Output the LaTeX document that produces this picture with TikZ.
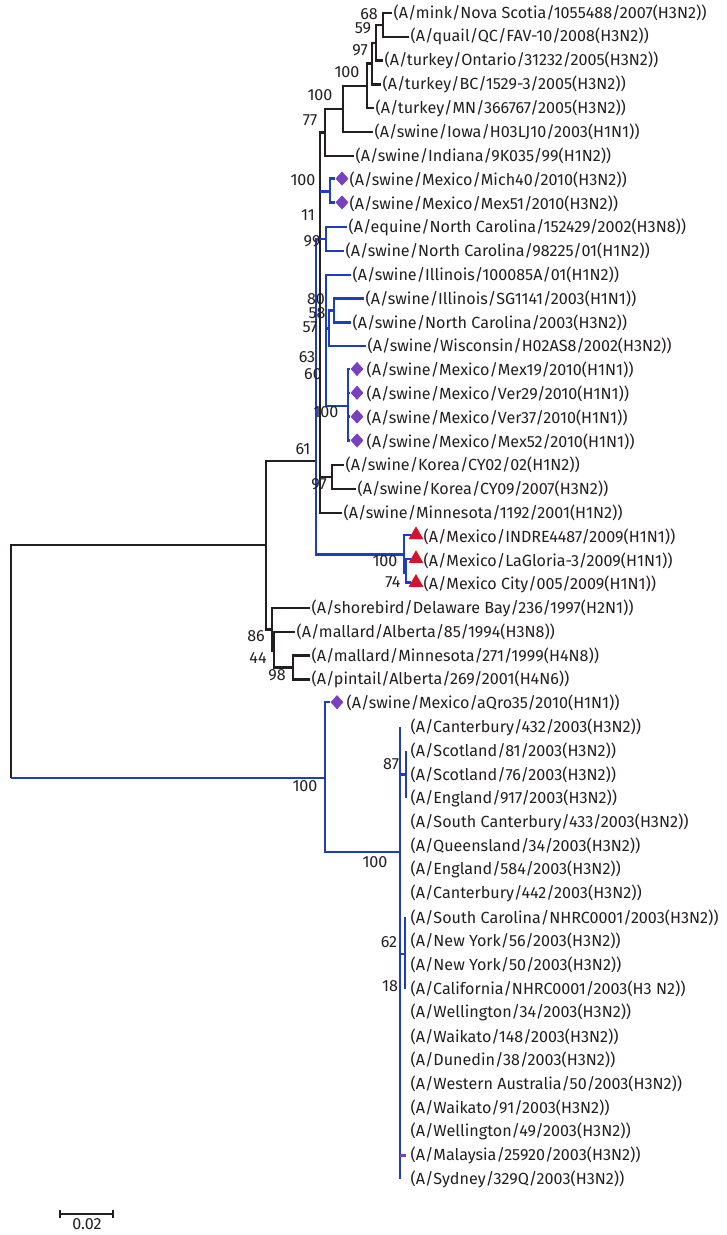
\documentclass[tikz,border=0pt]{standalone}
\usepackage{fontspec}
\setmainfont{Fira Sans}
\usetikzlibrary{shapes.geometric}
\definecolor{tblack}{HTML}{231F20}
\definecolor{tblue}{HTML}{1E3EBE}
\definecolor{tpurple}{HTML}{7A40C2}
\definecolor{tred}{HTML}{D2142C}
\newcommand{\lf}{\fontsize{12.1}{14}\selectfont}
\begin{document}
\begin{tikzpicture}[x=0.75pt,y=-0.75pt,
  br/.style={line width=1.8pt, draw=tblack},
  bb/.style={line width=1.8pt, draw=tblue},
  leaf/.style={anchor=west, inner xsep=1pt, inner ysep=0pt, text=tblack, font=\lf},
  bs/.style={inner sep=0pt, text=tblack, font=\lf},
  dia/.style={diamond, fill=tpurple, inner sep=0pt, minimum width=9.5pt, minimum height=10.5pt},
  tri/.style={regular polygon, regular polygon sides=3, fill=tred, inner sep=0pt, minimum size=12.5pt}]
\useasboundingbox (0,0) rectangle (727,1235);

% ---------- leaves ----------
\node[leaf] (l1) at (392,13) {(A/mink/Nova Scotia/1055488/2007(H3N2))};
\node[leaf] (l2) at (409,36.8) {(A/quail/QC/FAV-10/2008(H3N2))};
\node[leaf] (l3) at (383,60.6) {(A/turkey/Ontario/31232/2005(H3N2))};
\node[leaf] (l4) at (381,84.4) {(A/turkey/BC/1529-3/2005(H3N2))};
\node[leaf] (l5) at (374,108.2) {(A/turkey/MN/366767/2005(H3N2))};
\node[leaf] (l6) at (373,132) {(A/swine/Iowa/H03LJ10/2003(H1N1))};
\node[leaf] (l7) at (354,155.8) {(A/swine/Indiana/9K035/99(H1N2))};
\node[dia] (d8) at (342,178.6) {};
\node[leaf] (l8) at (348,179.6) {(A/swine/Mexico/Mich40/2010(H3N2))};
\node[dia] (d9) at (342,202.4) {};
\node[leaf] (l9) at (348,203.4) {(A/swine/Mexico/Mex51/2010(H3N2))};
\node[leaf] (l10) at (347,227.2) {(A/equine/North Carolina/152429/2002(H3N8))};
\node[leaf] (l11) at (344,251) {(A/swine/North Carolina/98225/01(H1N2))};
\node[leaf] (l12) at (351,274.8) {(A/swine/Illinois/100085A/01(H1N2))};
\node[leaf] (l13) at (364,298.6) {(A/swine/Illinois/SG1141/2003(H1N1))};
\node[leaf] (l14) at (351,322.4) {(A/swine/North Carolina/2003(H3N2))};
\node[leaf] (l15) at (366,346.2) {(A/swine/Wisconsin/H02AS8/2002(H3N2))};
\node[dia] (d16) at (357,369) {};
\node[leaf] (l16) at (365,370) {(A/swine/Mexico/Mex19/2010(H1N1))};
\node[dia] (d17) at (357,392.8) {};
\node[leaf] (l17) at (365,393.8) {(A/swine/Mexico/Ver29/2010(H1N1))};
\node[dia] (d18) at (357,416.6) {};
\node[leaf] (l18) at (365,417.6) {(A/swine/Mexico/Ver37/2010(H1N1))};
\node[dia] (d19) at (357,440.4) {};
\node[leaf] (l19) at (365,441.4) {(A/swine/Mexico/Mex52/2010(H1N1))};
\node[leaf] (l20) at (344,465.2) {(A/swine/Korea/CY02/02(H1N2))};
\node[leaf] (l21) at (356,489) {(A/swine/Korea/CY09/2007(H3N2))};
\node[leaf] (l22) at (342,512.8) {(A/swine/Minnesota/1192/2001(H1N2))};
\node[tri] (t23) at (416,535) {};
\node[leaf] (l23) at (422,536.6) {(A/Mexico/INDRE4487/2009(H1N1))};
\node[tri] (t24) at (416,558.8) {};
\node[leaf] (l24) at (422,560.4) {(A/Mexico/LaGloria-3/2009(H1N1))};
\node[tri] (t25) at (416,582.6) {};
\node[leaf] (l25) at (422,584.2) {(A/Mexico City/005/2009(H1N1))};
\node[leaf] (l26) at (310,608) {(A/shorebird/Delaware Bay/236/1997(H2N1))};
\node[leaf] (l27) at (295,631.8) {(A/mallard/Alberta/85/1994(H3N8))};
\node[leaf] (l28) at (310,655.6) {(A/mallard/Minnesota/271/1999(H4N8))};
\node[leaf] (l29) at (310,679.4) {(A/pintail/Alberta/269/2001(H4N6))};
\node[dia] (d30) at (337,702.2) {};
\node[leaf] (l30) at (345,703.2) {(A/swine/Mexico/aQro35/2010(H1N1))};
\node[leaf] (l31) at (409,727) {(A/Canterbury/432/2003(H3N2))};
\node[leaf] (l32) at (409,750.8) {(A/Scotland/81/2003(H3N2))};
\node[leaf] (l33) at (409,774.6) {(A/Scotland/76/2003(H3N2))};
\node[leaf] (l34) at (409,798.4) {(A/England/917/2003(H3N2))};
\node[leaf] (l35) at (409,822.2) {(A/South Canterbury/433/2003(H3N2))};
\node[leaf] (l36) at (409,846) {(A/Queensland/34/2003(H3N2))};
\node[leaf] (l37) at (409,869.8) {(A/England/584/2003(H3N2))};
\node[leaf] (l38) at (409,893.6) {(A/Canterbury/442/2003(H3N2))};
\node[leaf] (l39) at (409,917.4) {(A/South Carolina/NHRC0001/2003(H3N2))};
\node[leaf] (l40) at (409,941.2) {(A/New York/56/2003(H3N2))};
\node[leaf] (l41) at (409,965) {(A/New York/50/2003(H3N2))};
\node[leaf] (l42) at (409,988.8) {(A/California/NHRC0001/2003(H3 N2))};
\node[leaf] (l43) at (409,1012.6) {(A/Wellington/34/2003(H3N2))};
\node[leaf] (l44) at (409,1036.4) {(A/Waikato/148/2003(H3N2))};
\node[leaf] (l45) at (409,1060.2) {(A/Dunedin/38/2003(H3N2))};
\node[leaf] (l46) at (409,1084) {(A/Western Australia/50/2003(H3N2))};
\node[leaf] (l47) at (409,1107.8) {(A/Waikato/91/2003(H3N2))};
\node[leaf] (l48) at (409,1131.6) {(A/Wellington/49/2003(H3N2))};
\node[leaf] (l49) at (409,1155.4) {(A/Malaysia/25920/2003(H3N2))};
\node[leaf] (l50) at (409,1179.2) {(A/Sydney/329Q/2003(H3N2))};

% ---------- internal nodes ----------
\coordinate (n68) at (383,24.9);
\coordinate (n59) at (376,42.75);
\coordinate (n97a) at (372,63.6);
\coordinate (n100b) at (367,85.9);
\coordinate (n100a) at (343,108.9);
\coordinate (n77) at (325,132.4);
\coordinate (nBk) at (320,461);
\coordinate (mS) at (320,191.5);
\coordinate (nM) at (330,191.5);
\coordinate (nK) at (332,477.1);
\coordinate (nBl) at (316,461);
\coordinate (n99) at (326,239.1);
\coordinate (nX) at (326,340);
\coordinate (n58) at (329,328.4);
\coordinate (n80) at (334,310.5);
\coordinate (nMex) at (348,405.7);
\coordinate (nP100) at (404,554.5);
\coordinate (nP74) at (406,572.3);
\coordinate (nA) at (266,545);
\coordinate (n86) at (272,629.5);
\coordinate (n44) at (274,650.5);
\coordinate (n98) at (293,667.5);
\coordinate (nR) at (11,661.5);
\coordinate (rB) at (11,778);
\coordinate (nB) at (325,778);
\coordinate (nH) at (400,852);
\coordinate (n87) at (406,774.6);
\coordinate (n62) at (405,954);

% ---------- black branches ----------
\draw[br] (n68) |- (l1);  \draw[br] (n68) |- (l2);
\draw[br] (n59) |- (n68); \draw[br] (n59) |- (l3);
\draw[br] (n97a) |- (n59); \draw[br] (n97a) |- (l4);
\draw[br] (n100b) |- (n97a); \draw[br] (n100b) |- (l5);
\draw[br] (n100a) |- (n100b); \draw[br] (n100a) |- (l6);
\draw[br] (n77) |- (n100a); \draw[br] (n77) |- (l7);
\draw[br] (nBk) |- (n77);
\draw[br] (nBk) |- (nK);
\draw[br] (nBk) |- (l22);
\draw[br] (nK) |- (l20); \draw[br] (nK) |- (l21);
\draw[br] (nR) |- (nA);
\draw[br] (nR) -- (rB);
\draw[br] (nA) |- (nBl);
\draw[br] (nA) |- (n86);
\draw[br] (n86) |- (l26); \draw[br] (n86) |- (n44);
\draw[br] (n44) |- (l27); \draw[br] (n44) |- (n98);
\draw[br] (n98) |- (l28); \draw[br] (n98) |- (l29);

% ---------- blue branches ----------
\draw[bb] (mS) -- (nM);
\draw[bb] (nM) |- (d8); \draw[bb] (nM) |- (d9);
\draw[bb] (nBl) |- (n99); \draw[bb] (nBl) |- (nP100);
\draw[bb] (n99) |- (l10); \draw[bb] (n99) |- (l11);
\draw[bb] (nX) |- (l12); \draw[bb] (nX) |- (n58); \draw[bb] (nX) |- (nMex);
\draw[bb] (n58) |- (n80); \draw[bb] (n58) |- (l15);
\draw[bb] (n80) |- (l13); \draw[bb] (n80) |- (l14);
\draw[bb] (nMex) |- (d16); \draw[bb] (nMex) |- (d17);
\draw[bb] (nMex) |- (d18); \draw[bb] (nMex) |- (d19);
\draw[bb] (nP100) |- (t23); \draw[bb] (nP100) |- (nP74);
\draw[bb] (nP74) |- (t24); \draw[bb] (nP74) |- (t25);
\draw[bb] (rB) -- (nB);
\draw[bb] (nB) |- (d30); \draw[bb] (nB) |- (nH);
\draw[bb] (nH |- l31) -- (nH |- l50);
\draw[bb] (nH |- n87) -- (n87);
\draw[bb] (n87 |- l32) -- (n87 |- l34);
\draw[bb] (nH |- n62) -- (n62);
\draw[bb] (n62 |- l39) -- (n62 |- l42);
\draw[line width=1.8pt, draw=tpurple] (nH |- l49) -- ++(6,0);

% redraw markers on top
\node[dia] at (d8) {}; \node[dia] at (d9) {};
\node[dia] at (d16) {}; \node[dia] at (d17) {};
\node[dia] at (d18) {}; \node[dia] at (d19) {};
\node[dia] at (d30) {};
\node[tri] at (t23) {}; \node[tri] at (t24) {}; \node[tri] at (t25) {};

% ---------- bootstrap values ----------
\node[bs] (b68) at (369,14) {68};
\node[bs] (b59) at (363,28) {59};
\node[bs] (b97a) at (360,50) {97};
\node[bs] (b100b) at (347,72) {100};
\node[bs] (b100a) at (320,95) {100};
\node[bs] (b77) at (310,120) {77};
\node[bs] (b100m) at (303,180) {100};
\node[bs] (b11) at (308,215) {11};
\node[bs] (b99) at (312,241) {99};
\node[bs] (b80) at (316,299) {80};
\node[bs] (b58) at (317,313) {58};
\node[bs] (b57) at (310,327) {57};
\node[bs] (b63) at (307,357) {63};
\node[bs] (b60) at (313,374) {60};
\node[bs] (b100x) at (326,412) {100};
\node[bs] (b61) at (303,449) {61};
\node[bs] (b97k) at (319,484) {97};
\node[bs] (b100p) at (385,561) {100};
\node[bs] (b74) at (393,582) {74};
\node[bs] (b86) at (256,636) {86};
\node[bs] (b44) at (258,658) {44};
\node[bs] (b98) at (277,675) {98};
\node[bs] (b100r) at (305,786) {100};
\node[bs] (b87) at (391,764) {87};
\node[bs] (b100h) at (375,862) {100};
\node[bs] (b62) at (389,942) {62};
\node[bs] (b18) at (390,986) {18};

% ---------- scale bar ----------
\coordinate (sb1) at (60,1214);
\coordinate (sb2) at (113,1214);
\draw[line width=1.4pt, draw=tblack] (sb1) -- (sb2);
\draw[line width=1.4pt, draw=tblack] ([yshift=3pt]sb1) -- ([yshift=-3pt]sb1);
\draw[line width=1.4pt, draw=tblack] ([yshift=3pt]sb2) -- ([yshift=-3pt]sb2);
\node[bs] (sbl) at (87,1224) {0.02};
\end{tikzpicture}
\end{document}
